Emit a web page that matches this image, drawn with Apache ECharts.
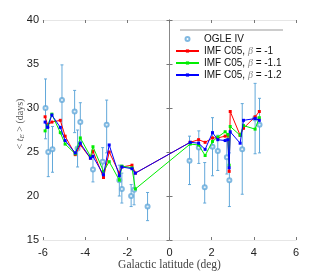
<!DOCTYPE html>
<html><head><meta charset="utf-8">
<script src="https://cdn.jsdelivr.net/npm/echarts@6/dist/echarts.min.js"></script>
<style>html,body{margin:0;padding:0;background:#fff}#c{width:327px;height:273px}</style>
</head><body><div id="c"></div>
<script>
// Model curves (shared latitudes)
const modelLat = [-5.9, -5.78, -5.58, -5.18, -4.95, -4.47, -4.23, -3.75, -3.63, -3.13, -2.86, -2.38, -2.26, -1.78, -1.62, 0.98, 1.38, 1.69, 2.04, 2.29, 2.64, 2.77, 2.83, 2.88, 3.35, 3.51, 4.06, 4.26];
const beta1   = [29.0, 28.1, 28.4, 28.6, 26.8, 24.7, 25.8, 24.3, 25.1, 22.1, 25.0, 22.6, 23.3, 23.5, 22.6, 26.1, 26.4, 26.1, 26.6, 26.6, 26.8, 26.9, 22.8, 29.6, 26.9, 27.7, 29.0, 29.6];
const beta11  = [27.4, 28.0, 29.3, 27.2, 25.9, 24.8, 26.6, 24.5, 25.6, 22.8, 23.9, 21.8, 23.4, 23.2, 20.8, 25.9, 25.8, 24.6, 26.2, 26.7, 27.3, 27.0, 23.5, 27.9, 26.9, 28.0, 27.6, 28.9];
const beta12  = [28.4, 27.8, 29.2, 27.8, 26.3, 24.9, 26.0, 24.3, 24.5, 22.4, 25.8, 22.3, 23.3, 23.1, 22.6, 26.1, 26.0, 25.3, 27.2, 26.4, 26.3, 26.4, 23.2, 27.3, 26.0, 28.6, 28.8, 28.6];
// OGLE IV measurements
const ogleLat = [-5.88, -5.75, -5.55, -5.1, -4.5, -4.36, -4.23, -3.63, -3.17, -2.98, -2.38, -2.26, -1.82, -1.68, -1.04, 0.95, 1.39, 1.67, 2.04, 2.29, 2.72, 2.84, 3.45, 4.06, 4.27];
const ogleVal = [30.0, 25.0, 25.3, 30.9, 29.6, 25.4, 28.4, 23.0, 23.9, 28.1, 21.8, 20.8, 20.0, 20.7, 18.8, 24.0, 25.5, 21.0, 25.6, 25.1, 24.4, 21.8, 25.3, 28.8, 28.1];
const ogleLo  = [26.5, 22.2, 22.7, 27.0, 27.2, 23.3, 26.2, 21.6, 22.4, 24.9, 20.0, 19.2, 18.8, 19.0, 17.2, 21.3, 23.7, 19.2, 22.3, 22.9, 22.5, 18.8, 20.2, 24.8, 24.9];
const ogleHi  = [33.3, 27.8, 27.9, 34.9, 32.0, 27.5, 30.6, 25.0, 25.5, 30.9, 23.5, 22.6, 21.3, 22.8, 20.4, 26.8, 27.4, 23.8, 28.9, 26.9, 26.5, 24.9, 30.5, 32.8, 31.1];
const xTicks = [-6, -4, -2, 0, 2, 4, 6];
const yTicks = [15, 20, 25, 30, 35, 40];

const ogleColor = '#62a8da';
const pairs = (xs, ys) => xs.map((x, i) => [x, ys[i]]);

const chart = echarts.init(document.getElementById('c'), null, {renderer: 'canvas'});
const axisFont = {fontFamily: 'Liberation Sans', fontSize: 11, color: '#222'};
const xCommon = {type: 'value', min: -6, max: 6, interval: 2, splitLine: {show: false}};
const yCommon = {type: 'value', min: 15, max: 40, interval: 5, splitLine: {show: false}};
chart.setOption({
  animation: false,
  backgroundColor: '#fff',
  grid: {left: 43, right: 31, top: 20, bottom: 33, containLabel: false, outerBoundsMode: 'none'},
  xAxis: [
    Object.assign({}, xCommon, {
      position: 'bottom',
      axisLine: {show: true, lineStyle: {color: '#e6e6e6', width: 1}},
      axisTick: {show: true, inside: true, length: 3, lineStyle: {color: '#777'}},
      axisLabel: Object.assign({margin: 7, formatter: v => xTicks.includes(v) ? String(v) : ''}, axisFont),
      name: 'Galactic latitude (deg)', nameLocation: 'middle', nameGap: 19, nameMoveOverlap: false,
      nameTextStyle: {fontFamily: 'Liberation Serif', fontSize: 11.5, color: '#444'}
    }),
    Object.assign({}, xCommon, {
      position: 'top',
      axisLine: {show: true, lineStyle: {color: '#e6e6e6', width: 1}},
      axisTick: {show: true, inside: true, length: 3, lineStyle: {color: '#777'}},
      axisLabel: {show: false}
    })
  ],
  yAxis: [
    Object.assign({}, yCommon, {
      position: 'left',
      axisLine: {show: true, lineStyle: {color: '#888', width: 1}},
      axisTick: {show: true, inside: true, length: 3, lineStyle: {color: '#777'}},
      axisLabel: Object.assign({margin: 4, formatter: v => yTicks.includes(v) ? String(v) : ''}, axisFont),
      name: '{r|<} {t|t}{s|E} {r|>} {r|(days)}', nameLocation: 'middle', nameGap: 17, nameMoveOverlap: false,
      nameTextStyle: {
        fontFamily: 'Liberation Serif', fontSize: 10, color: '#555', padding: [0, 0, 0, 12],
        rich: {
          r: {fontFamily: 'Liberation Serif', fontSize: 10, color: '#555'},
          t: {fontFamily: 'Liberation Serif', fontSize: 10, fontStyle: 'italic', color: '#555'},
          s: {fontFamily: 'Liberation Serif', fontSize: 7, fontStyle: 'italic', color: '#555', verticalAlign: 'bottom', padding: [5, 0, 0, 0]}
        }
      }
    }),
    Object.assign({}, yCommon, {
      position: 'right',
      axisLine: {show: true, lineStyle: {color: '#888', width: 1}},
      axisTick: {show: true, inside: true, length: 3, lineStyle: {color: '#777'}},
      axisLabel: {show: false}
    })
  ],
  legend: {
    orient: 'vertical', left: 175, top: 33, padding: 0, itemGap: 0, itemWidth: 23, itemHeight: 4,
    textStyle: {fontFamily: 'Liberation Sans', fontSize: 10, lineHeight: 12, color: '#111', padding: [0, 0, 0, 0],
      rich: {b: {fontFamily: 'Liberation Serif', fontStyle: 'italic', fontSize: 10, color: '#888'}}},
    formatter: name => name.replace('β', '{b|β}'),
    data: ['OGLE IV', 'IMF C05, β = -1', 'IMF C05, β = -1.1', 'IMF C05, β = -1.2']
  },
  graphic: [{type: 'line', shape: {x1: 180, y1: 30, x2: 283, y2: 30}, style: {stroke: '#999', lineWidth: 1}, silent: true}],
  series: [
    {
      name: 'OGLE IV-err', type: 'custom', z: 1,
      data: ogleLat.map((x, i) => [x, ogleLo[i], ogleHi[i]]),
      encode: {x: 0, y: [1, 2]},
      renderItem: (params, api) => {
        const lo = api.coord([api.value(0), api.value(1)]);
        const hi = api.coord([api.value(0), api.value(2)]);
        const w = 1.5;
        const st = {stroke: ogleColor, lineWidth: 1};
        return {type: 'group', children: [
          {type: 'line', shape: {x1: lo[0], y1: lo[1], x2: hi[0], y2: hi[1]}, style: st},
          {type: 'line', shape: {x1: lo[0] - w, y1: lo[1], x2: lo[0] + w, y2: lo[1]}, style: st},
          {type: 'line', shape: {x1: hi[0] - w, y1: hi[1], x2: hi[0] + w, y2: hi[1]}, style: st}
        ]};
      }
    },
    {
      name: 'OGLE IV', type: 'scatter', z: 2, symbol: 'emptyCircle', symbolSize: 4,
      itemStyle: {color: ogleColor, borderColor: ogleColor, borderWidth: 0.8},
      data: pairs(ogleLat, ogleVal)
    },
    {
      name: 'IMF C05, β = -1', type: 'line', z: 3, symbol: 'rect', symbolSize: 3,
      lineStyle: {color: '#ff0000', width: 1}, itemStyle: {color: '#ff0000'},
      data: pairs(modelLat, beta1)
    },
    {
      name: 'IMF C05, β = -1.1', type: 'line', z: 4, symbol: 'rect', symbolSize: 3,
      lineStyle: {color: '#00ee00', width: 1}, itemStyle: {color: '#00ee00'},
      data: pairs(modelLat, beta11)
    },
    {
      name: 'IMF C05, β = -1.2', type: 'line', z: 5, symbol: 'rect', symbolSize: 3,
      lineStyle: {color: '#0000ff', width: 1}, itemStyle: {color: '#0000ff'},
      data: pairs(modelLat, beta12)
    }
  ]
});
</script></body></html>
